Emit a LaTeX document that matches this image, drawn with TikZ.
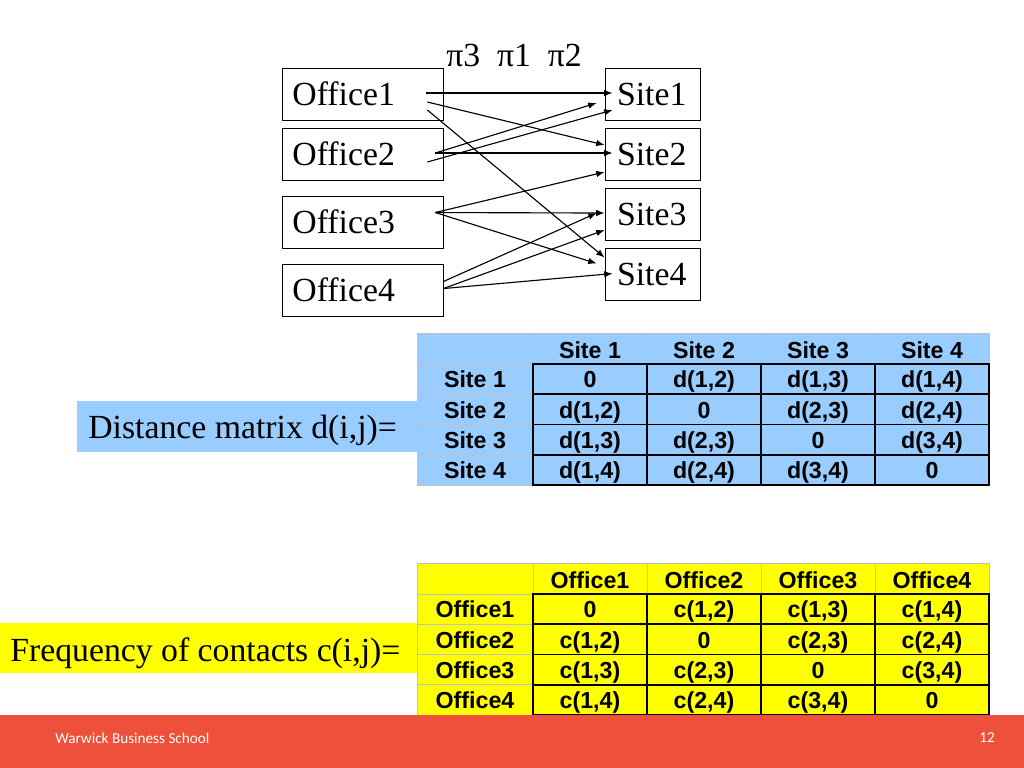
\documentclass[tikz,border=0pt]{standalone}
\usepackage{fontspec}
\setmainfont{Liberation Serif}
\setsansfont{Liberation Sans}
\newfontfamily\wbsfont{Carlito}
\usepackage{tikz}
\usetikzlibrary{arrows.meta}
\usetikzlibrary{positioning}
\definecolor{skyb}{RGB}{153,204,255}
\definecolor{yell}{RGB}{255,255,0}
\definecolor{wbsred}{RGB}{239,80,60}
\definecolor{gridgrey}{RGB}{192,192,192}
\tikzstyle{aS}=[every edge/.style={draw,line width=0.8pt,-{Latex[length=6pt,width=4.6pt]}}]
\tikzstyle{office}=[draw,line width=0.6pt,minimum height=1.3cm,text width=3.5cm,
                inner xsep=0.26cm,align=left,font=\fontsize{24}{28}\selectfont,node distance=1.5cm]
\tikzstyle{site}=[draw,line width=0.6pt,minimum height=1.3cm,text width=1.775cm,
                inner xsep=0.3cm,align=left,font=\fontsize{24}{28}\selectfont,node distance=1.5cm]
\tikzstyle{lab}=[anchor=base west,inner sep=0,font=\fontsize{24}{28}\selectfont]
\tikzstyle{cell}=[anchor=base,inner sep=0,font=\sffamily\bfseries\fontsize{16.5}{19}\selectfont]
\tikzstyle{gridg}=[draw=gridgrey,line width=0.7pt]
\tikzstyle{gridk}=[draw=black,line width=1.3pt]

% #1 top, #2 fill, #3 letter, #4 header text
\newcommand{\mtab}[4]{%
  \fill[#2] (417,#1) rectangle (989,#1+152);
  \foreach \x in {417,533,647,761,875,989}
    \draw[gridg] (\x,#1) -- (\x,#1+152);
  \foreach \y in {0,31,61.25,91.5,121.75,152}
    \draw[gridg] (417,#1+\y) -- (989,#1+\y);
  \draw[gridk] (533,#1+31) rectangle (989,#1+152);
  \foreach \x in {647,761,875}
    \draw[gridk] (\x,#1+31) -- (\x,#1+152);
  \foreach \y in {61.25,91.5,121.75}
    \draw[gridk] (533,#1+\y) -- (989,#1+\y);
  \foreach \i in {1,...,4} {
    \node[cell] (#3h\i) at ({476+114*\i},#1+25) {#4\i};
    \node[cell] (#3r\i) at (475,{#1+24.5+30.25*\i}) {#4\i};
    \foreach \j in {1,...,4} {
      \pgfmathtruncatemacro\tlo{min(\i,\j)}%
      \pgfmathtruncatemacro\thi{max(\i,\j)}%
      \ifnum\i=\j \def\cval{0}\else \edef\cval{#3(\tlo,\thi)}\fi
      \node[cell] (#3\i\j) at ({476+114*\j},{#1+24.5+30.25*\i}) {\cval};
    }
  }
}

\begin{document}
\begin{tikzpicture}[aS,x=0.025cm,y=-0.025cm]
\path[use as bounding box] (0,0) rectangle (1024,768);

\node[office] (o1) at (362.5,94) {Office1};
\node[office,below of=o1] (o2) {Office2};
\node[office,below of=o2,yshift=-0.2cm] (o3) {Office3};
\node[office,below of=o3,yshift=-0.2cm] (o4) {Office4};

\node[site,right of=o1,node distance=7.25cm] (s1) {Site1};
\node[site,below of=s1] (s2) {Site2};
\node[site,below of=s2] (s3) {Site3};
\node[site,below of=s3] (s4) {Site4};

\node[font=\fontsize{24}{28}\selectfont] (pis) at (514,55) {π3\ \ π1\ \ π2};

\path
([shift={(-17,-1)}]o1.east) edge ([shift={(8,-1)}]s1.west)
([shift={(-16,8)}]o1.east) edge ([shift={(0,-9)}]s2.west)
([shift={(-16,16)}]o1.east) edge ([shift={(0,-16.5)}]s4.west)
([shift={(-8,-1)}]o2.east) edge ([shift={(-8,9)}]s1.west)
([shift={(-16,8)}]o2.east) edge ([shift={(8,16)}]s1.west)
([shift={(-8,-1)}]o2.east) edge ([shift={(8,-1)}]s2.west)
;
\path
([shift={(-8,-9.5)}]o3.east) edge ([shift={(0,18)}]s2.west)
([shift={(-8,-9.5)}]o3.east) edge ([shift={(0,-1)}]s3.west)
([shift={(-8,-9.5)}]o3.east) edge ([shift={(-8,-10.5)}]s4.west)
([shift={(0,-8.5)}]o4.east) edge ([shift={(-8,-1)}]s3.west)
([shift={(0,-1.5)}]o4.east) edge ([shift={(0,16)}]s3.west)
([shift={(0,-1.5)}]o4.east) edge ([shift={(8,-0.5)}]s4.west)
;

% distance matrix
\fill[skyb] (77,401) rectangle (418,452);
\node[lab] (dlab) at (88,438.5) {Distance matrix d(i,j)=};
\mtab{333}{skyb}{d}{Site~}

% contacts
\fill[yell] (0,623) rectangle (418,673);
\node[lab] (clab) at (10,661) {Frequency of contacts c(i,j)=};
\mtab{563}{yell}{c}{Office}

% footer
\fill[wbsred] (0,715) rectangle (1024,768);
\node[anchor=west,text=white,font=\wbsfont\fontsize{10.8}{12}\selectfont,inner sep=0] (wbs) at (55,738) {Warwick Business School};
\node[text=white,font=\wbsfont\fontsize{10.8}{12}\selectfont,inner sep=0] (pg) at (987,738) {12};
\end{tikzpicture}
\end{document}
